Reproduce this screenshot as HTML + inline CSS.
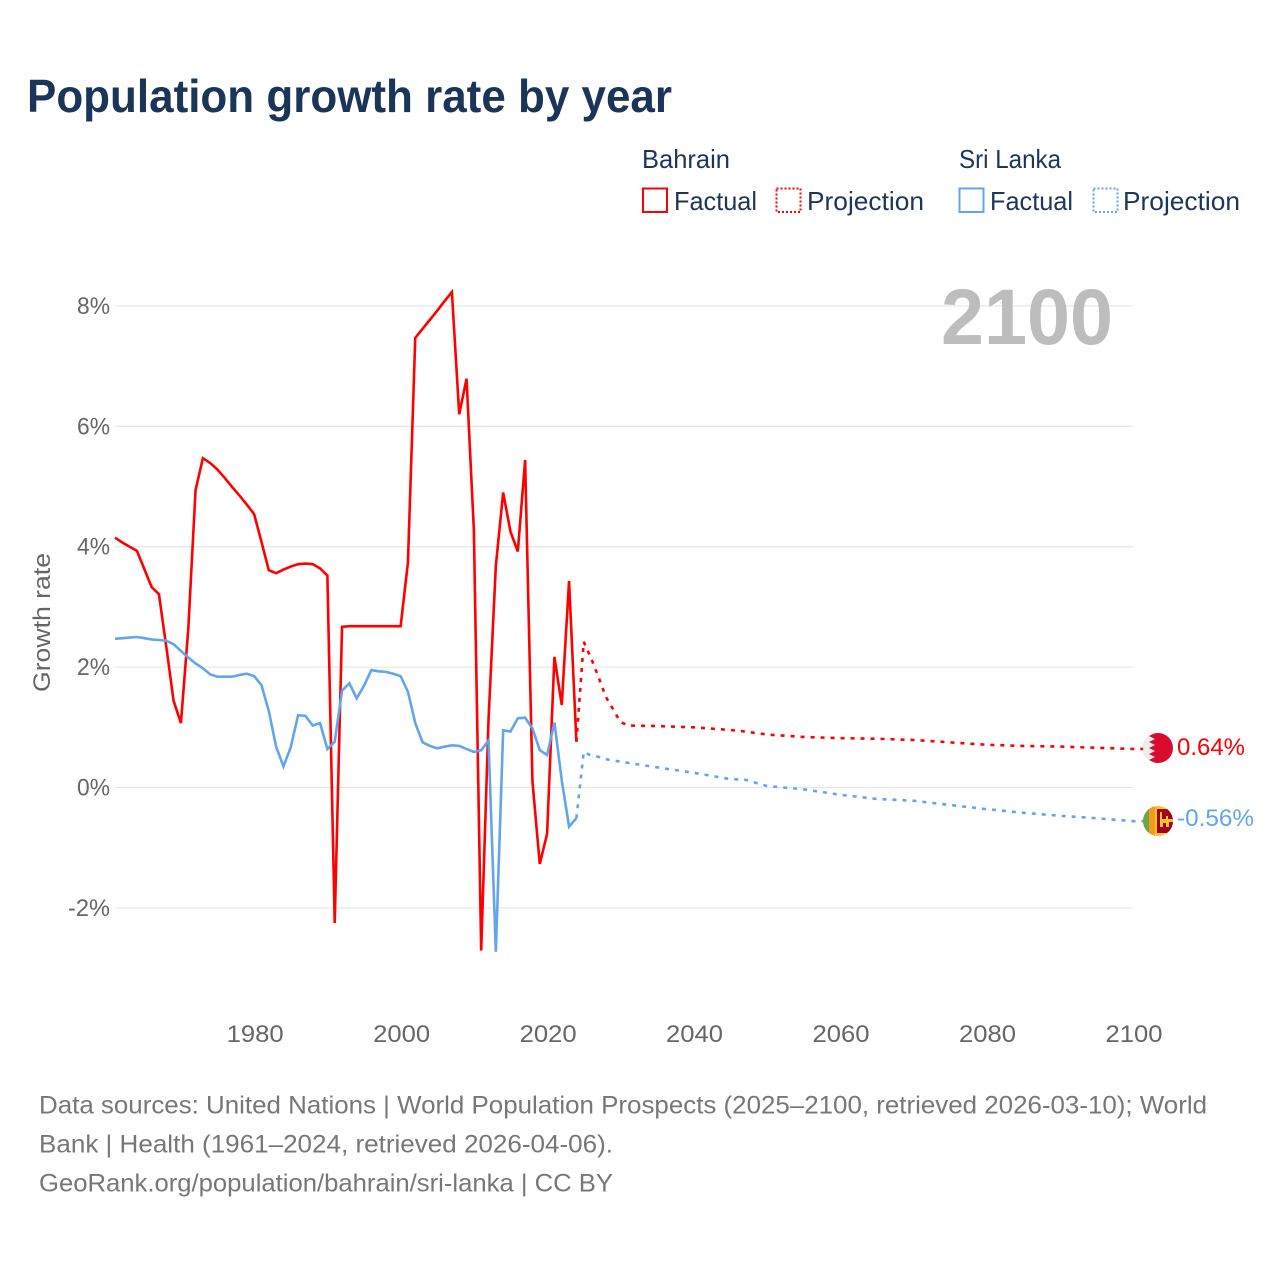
<!DOCTYPE html>
<html lang="en">
<head>
<meta charset="utf-8">
<title>Population growth rate by year</title>
<style>
html,body{margin:0;padding:0;background:#fff;}
svg{display:block;}
text{font-family:"Liberation Sans",sans-serif;}
</style>
</head>
<body>
<svg id="chart" xmlns="http://www.w3.org/2000/svg" width="1280" height="1280" viewBox="0 0 1280 1280">
  <defs>
    <clipPath id="clip-bh"><circle cx="1158" cy="748" r="15"/></clipPath>
    <clipPath id="clip-lk"><circle cx="1158" cy="821" r="15"/></clipPath>
  </defs>
  <text x="27" y="112" font-size="46" font-weight="700" fill="#1a3557" textLength="645" lengthAdjust="spacingAndGlyphs">Population growth rate by year</text>

  <g font-size="26" fill="#1d3557">
    <text x="642" y="168" textLength="88" lengthAdjust="spacingAndGlyphs">Bahrain</text>
    <text x="959" y="168" textLength="102" lengthAdjust="spacingAndGlyphs">Sri Lanka</text>
    <g>
      <rect x="643" y="188.5" width="24" height="23.5" fill="none" stroke="#ff0000" stroke-width="2"/>
      <text x="674" y="210" textLength="83" lengthAdjust="spacingAndGlyphs">Factual</text>
    </g>
    <g>
      <rect x="776.5" y="188.5" width="24" height="23.5" fill="none" stroke="#ff0000" stroke-width="2" stroke-dasharray="2 2"/>
      <text x="807" y="210" textLength="117" lengthAdjust="spacingAndGlyphs">Projection</text>
    </g>
    <g>
      <rect x="959.5" y="188.5" width="24" height="23.5" fill="none" stroke="#62a5ee" stroke-width="2"/>
      <text x="990" y="210" textLength="83" lengthAdjust="spacingAndGlyphs">Factual</text>
    </g>
    <g>
      <rect x="1093.5" y="188.5" width="24" height="23.5" fill="none" stroke="#62a5ee" stroke-width="2" stroke-dasharray="2 2"/>
      <text x="1123" y="210" textLength="117" lengthAdjust="spacingAndGlyphs">Projection</text>
    </g>
  </g>

  <g id="grid"></g>
  <g id="y-ticks"></g>
  <g id="x-ticks"></g>
  <text transform="translate(50 622.5) rotate(-90)" text-anchor="middle" font-size="24.5" fill="#666" textLength="139" lengthAdjust="spacingAndGlyphs">Growth rate</text>
  <text x="1113" y="344" text-anchor="end" font-size="79" font-weight="700" fill="#bdbdbd" textLength="172" lengthAdjust="spacingAndGlyphs">2100</text>

  <g id="series"></g>

  <g clip-path="url(#clip-bh)">
    <rect x="1143" y="733" width="30" height="30" fill="#da0b2d"/>
    <polygon points="1143,733 1155,733 1149,736 1155,739 1149,742 1155,745 1149,748 1155,751 1149,754 1155,757 1149,760 1155,763 1143,763" fill="#eeeeee"/>
  </g>
  <g clip-path="url(#clip-lk)">
    <rect x="1143" y="806" width="30" height="30" fill="#f9c62b"/>
    <rect x="1143" y="806" width="6" height="30" fill="#6da544"/>
    <rect x="1149" y="806" width="6" height="30" fill="#f59a1c"/>
    <rect x="1157" y="809" width="16" height="24" fill="#a2001d"/>
    <path d="M1160 812h2v7h4v-3h2v3h5v3h-4v5h-3v-4h-3v4h-3z" fill="#f9c62b"/>
  </g>
  <text id="label-bh" x="1177" y="755" font-size="24.5" fill="#ff0000" textLength="68" lengthAdjust="spacingAndGlyphs">0.64%</text>
  <text id="label-lk" x="1177" y="826" font-size="24.5" fill="#62a5ee" textLength="77" lengthAdjust="spacingAndGlyphs">-0.56%</text>

  <g font-size="25" fill="#777">
    <text x="39" y="1113.5" textLength="1168" lengthAdjust="spacingAndGlyphs">Data sources: United Nations | World Population Prospects (2025–2100, retrieved 2026-03-10); World</text>
    <text x="39" y="1152.5" textLength="574" lengthAdjust="spacingAndGlyphs">Bank | Health (1961–2024, retrieved 2026-04-06).</text>
    <text x="39" y="1191.5" textLength="574" lengthAdjust="spacingAndGlyphs">GeoRank.org/population/bahrain/sri-lanka | CC BY</text>
  </g>
</svg>

<script>
var yTickValues = [8, 6, 4, 2, 0, -2];
var yTickLabels = ["8%", "6%", "4%", "2%", "0%", "-2%"];
var xTickValues = [1980, 2000, 2020, 2040, 2060, 2080, 2100];
var xTickLabels = ["1980", "2000", "2020", "2040", "2060", "2080", "2100"];

var factualYears = [1961,1962,1963,1964,1965,1966,1967,1968,1969,1970,1971,1972,1973,1974,1975,1976,1977,1978,1979,1980,1981,1982,1983,1984,1985,1986,1987,1988,1989,1990,1991,1992,1993,1994,1995,1996,1997,1998,1999,2000,2001,2002,2003,2004,2005,2006,2007,2008,2009,2010,2011,2012,2013,2014,2015,2016,2017,2018,2019,2020,2021,2022,2023,2024];
var bahrainFactual = [4.15,4.07,4.00,3.93,3.63,3.33,3.21,2.34,1.44,1.07,2.62,4.94,5.47,5.39,5.28,5.14,4.99,4.85,4.70,4.54,4.08,3.61,3.56,3.62,3.67,3.71,3.72,3.71,3.64,3.52,-2.25,2.67,2.68,2.68,2.68,2.68,2.68,2.68,2.68,2.68,3.74,7.47,7.62,7.77,7.92,8.08,8.23,6.20,6.79,4.28,-2.71,1.12,3.68,4.90,4.25,3.92,5.44,0.10,-1.27,-0.77,2.17,1.37,3.43,0.76];
var sriLankaFactual = [2.47,2.48,2.49,2.50,2.48,2.46,2.45,2.44,2.38,2.27,2.16,2.06,1.98,1.88,1.84,1.84,1.84,1.87,1.89,1.85,1.70,1.27,0.68,0.35,0.67,1.20,1.19,1.03,1.07,0.64,0.76,1.61,1.73,1.48,1.69,1.95,1.93,1.92,1.89,1.85,1.59,1.07,0.75,0.69,0.65,0.68,0.70,0.69,0.64,0.59,0.62,0.78,-2.73,0.95,0.93,1.15,1.16,0.98,0.62,0.54,1.08,0.12,-0.65,-0.51];

var projectionYears = [2024,2025,2026,2027,2028,2029,2030,2031,2035,2040,2045,2047,2050,2055,2060,2065,2070,2075,2080,2085,2090,2095,2100];
var bahrainProjection = [0.76,2.42,2.15,1.84,1.51,1.30,1.09,1.03,1.02,1.00,0.955,0.93,0.88,0.84,0.82,0.81,0.79,0.75,0.71,0.69,0.68,0.66,0.64];
var sriLankaProjection = [-0.51,0.59,0.53,0.51,0.47,0.45,0.43,0.41,0.335,0.245,0.14,0.13,0.025,-0.03,-0.12,-0.19,-0.22,-0.29,-0.36,-0.42,-0.47,-0.51,-0.56];

var SVGNS = "http://www.w3.org/2000/svg";
function xScale(year) { return 115 + (year - 1961) * (1133 - 115) / (2100 - 1961); }
function yScale(v) { return 787.5 - v * 60.2; }
function pathFrom(xs, ys) {
  var d = "";
  for (var i = 0; i < xs.length; i++) {
    d += (i ? "L" : "M") + xScale(xs[i]).toFixed(2) + " " + yScale(ys[i]).toFixed(2);
  }
  return d;
}

var grid = document.getElementById("grid");
var yTicks = document.getElementById("y-ticks");
yTickValues.forEach(function (v, i) {
  var line = document.createElementNS(SVGNS, "line");
  
  
  line.setAttribute("x1", 115);
  line.setAttribute("x2", 1133);
  line.setAttribute("y1", yScale(v));
  line.setAttribute("y2", yScale(v));
  line.setAttribute("stroke", "#e8e8e8");
  line.setAttribute("stroke-width", 1.3);
  grid.appendChild(line);
  var t = document.createElementNS(SVGNS, "text");
  
  
  t.setAttribute("x", 110);
  t.setAttribute("y", yScale(v) + 8);
  t.setAttribute("text-anchor", "end");
  t.setAttribute("font-size", 24.5);
  t.setAttribute("fill", "#666");
  t.setAttribute("textLength", yTickLabels[i].length === 2 ? 33 : 42);
  t.setAttribute("lengthAdjust", "spacingAndGlyphs");
  t.textContent = yTickLabels[i];
  yTicks.appendChild(t);
});

var xTicks = document.getElementById("x-ticks");
xTickValues.forEach(function (v, i) {
  var t = document.createElementNS(SVGNS, "text");
  
  
  t.setAttribute("x", xScale(v) + 1);
  t.setAttribute("y", 1042);
  t.setAttribute("text-anchor", "middle");
  t.setAttribute("font-size", 24.5);
  t.setAttribute("fill", "#666");
  t.setAttribute("textLength", 57);
  t.setAttribute("lengthAdjust", "spacingAndGlyphs");
  t.textContent = xTickLabels[i];
  xTicks.appendChild(t);
});

var series = document.getElementById("series");
var RED = "#ff0000", BLUE = "#62a5ee";

var lineBP = document.createElementNS(SVGNS, "path");


lineBP.setAttribute("d", pathFrom(projectionYears, bahrainProjection) + "L1143 " + yScale(bahrainProjection[bahrainProjection.length - 1]).toFixed(2));
lineBP.setAttribute("fill", "none");
lineBP.setAttribute("stroke", RED);
lineBP.setAttribute("stroke-width", 2.6);
lineBP.setAttribute("stroke-dasharray", "4 6");
series.appendChild(lineBP);

var lineLP = document.createElementNS(SVGNS, "path");


lineLP.setAttribute("d", pathFrom(projectionYears, sriLankaProjection) + "L1143 " + yScale(sriLankaProjection[sriLankaProjection.length - 1]).toFixed(2));
lineLP.setAttribute("fill", "none");
lineLP.setAttribute("stroke", BLUE);
lineLP.setAttribute("stroke-width", 2.6);
lineLP.setAttribute("stroke-dasharray", "4 6");
series.appendChild(lineLP);

var lineBF = document.createElementNS(SVGNS, "path");


lineBF.setAttribute("d", pathFrom(factualYears, bahrainFactual));
lineBF.setAttribute("fill", "none");
lineBF.setAttribute("stroke", RED);
lineBF.setAttribute("stroke-width", 2.6);
series.appendChild(lineBF);

var lineLF = document.createElementNS(SVGNS, "path");


lineLF.setAttribute("d", pathFrom(factualYears, sriLankaFactual));
lineLF.setAttribute("fill", "none");
lineLF.setAttribute("stroke", BLUE);
lineLF.setAttribute("stroke-width", 2.6);
series.appendChild(lineLF);
</script>
</body>
</html>
